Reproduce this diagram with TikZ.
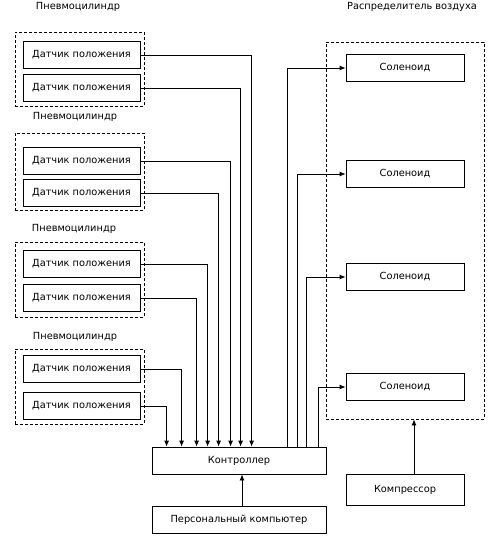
\documentclass[tikz,border=0pt]{standalone}
\usepackage{fontspec}
\setmainfont{DejaVu Sans}
\usetikzlibrary{arrows.meta}
\begin{document}
\begin{tikzpicture}[x=1pt,y=-1pt,
  every node/.style={font=\fontsize{9.8}{11}\selectfont, inner sep=0pt},
  box/.style={draw, line width=0.8pt, fill=white},
  sensor/.style={box, minimum width=117pt, minimum height=27pt},
  sol/.style={box, minimum width=118pt, minimum height=27pt},
  wide/.style={box, minimum width=174pt, minimum height=27pt},
  dbox/.style={draw, line width=0.8pt, dash pattern=on 3pt off 2pt},
  wire/.style={line width=0.8pt},
  arr/.style={wire, -{Latex[length=6pt,width=5pt]}}]
\useasboundingbox (0,0) rectangle (497,536);
% group frames
\node[dbox, minimum width=129pt, minimum height=74pt] (g1) at (79.5,69) {};
\node[dbox, minimum width=129pt, minimum height=77pt] (g2) at (79.5,171.5) {};
\node[dbox, minimum width=129pt, minimum height=75pt] (g3) at (79.5,279.5) {};
\node[dbox, minimum width=129pt, minimum height=75pt] (g4) at (79.5,386.5) {};
\node (l1) at (78,7) {Пневмоцилиндр};
\node (l2) at (75,117) {Пневмоцилиндр};
\node (l3) at (74,229) {Пневмоцилиндр};
\node (l4) at (75,337) {Пневмоцилиндр};
% sensors
\node[sensor] (s11) at (81.5,55) {Датчик положения};
\node[sensor] (s12) at (81.5,88) {Датчик положения};
\node[sensor] (s21) at (81.5,161) {Датчик положения};
\node[sensor] (s22) at (81.5,193) {Датчик положения};
\node[sensor] (s31) at (81.5,264) {Датчик положения};
\node[sensor] (s32) at (81.5,298) {Датчик положения};
\node[sensor] (s41) at (81.5,369) {Датчик положения};
\node[sensor] (s42) at (81.5,406) {Датчик положения};
% distributor
\node[dbox, minimum width=158pt, minimum height=377pt] (dist) at (405,230.5) {};
\node (ld) at (412,7) {Распределитель воздуха};
\node[sol] (v1) at (405,68) {Соленоид};
\node[sol] (v2) at (405,174) {Соленоид};
\node[sol] (v3) at (405,277) {Соленоид};
\node[sol] (v4) at (405,387) {Соленоид};
% controller etc
\node[wide] (ctrl) at (239,460.5) {Контроллер};
\node[wide] (pc) at (239,519.5) {Персональный компьютер};
\node[sol, minimum height=31pt] (comp) at (405,489.5) {Компрессор};
% sensor wires
\draw[arr] (s11.east) -| ([xshift=100pt]ctrl.north west);
\draw[arr] (s12.east) -| ([xshift=89pt]ctrl.north west);
\draw[arr] (s21.east) -| ([xshift=79pt]ctrl.north west);
\draw[arr] (s22.east) -| ([xshift=67pt]ctrl.north west);
\draw[arr] (s31.east) -| ([xshift=56pt]ctrl.north west);
\draw[arr] (s32.east) -| ([xshift=45pt]ctrl.north west);
\draw[arr] (s41.east) -| ([xshift=30pt]ctrl.north west);
\draw[arr] (s42.east) -| ([xshift=15pt]ctrl.north west);
% solenoid wires
\draw[arr] ([xshift=136pt]ctrl.north west) |- (v1.west);
\draw[arr] ([xshift=146pt]ctrl.north west) |- (v2.west);
\draw[arr] ([xshift=155pt]ctrl.north west) |- (v3.west);
\draw[arr] ([xshift=167pt]ctrl.north west) |- (v4.west);
% other
\draw[arr] ([xshift=3pt]pc.north) -- ([xshift=3pt]ctrl.south);
\draw[arr] ([xshift=9pt]comp.north) -- ([xshift=9pt]comp.north |- dist.south);
\end{tikzpicture}
\end{document}
